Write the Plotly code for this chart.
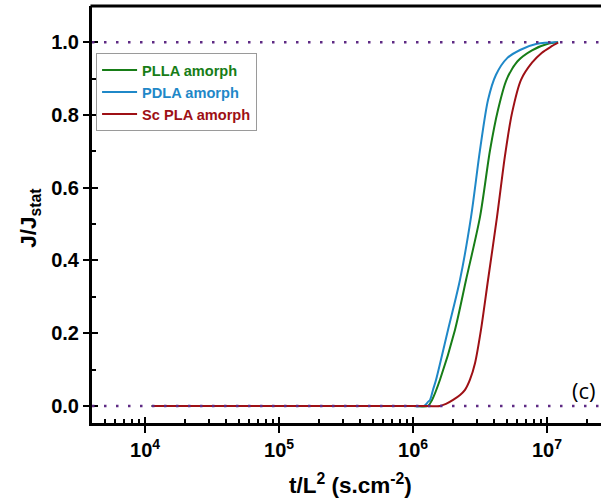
import plotly.graph_objects as go

# ---- data ----
t_plla = [1.12e4, 1.0e6, 1.294e6, 1.387e6, 1.589e6, 2.056e6, 2.489e6, 3.162e6, 3.758e6,
          4.305e6, 4.984e6, 6.026e6, 7.727e6, 1.016e7, 1.21e7]
j_plla = [0, 0, 0, 0.0165, 0.072, 0.209, 0.347, 0.520, 0.704,
          0.814, 0.897, 0.948, 0.978, 0.996, 1.0]

t_pdla = [1.12e4, 1.0e6, 1.208e6, 1.294e6, 1.340e6, 1.409e6, 1.486e6, 1.824e6, 2.242e6,
          2.711e6, 3.162e6, 3.631e6, 4.162e6, 5.023e6, 6.291e6, 8.414e6, 1.21e7]
j_pdla = [0, 0, 0, 0.011, 0.0165, 0.044, 0.072, 0.209, 0.347,
          0.520, 0.704, 0.842, 0.911, 0.956, 0.979, 0.996, 1.0]

t_sc = [1.12e4, 1.0e6, 1.589e6, 1.762e6, 1.991e6, 2.244e6, 2.443e6, 2.661e6, 2.904e6,
        3.214e6, 3.631e6, 4.236e6, 4.864e6, 5.483e6, 6.397e6, 7.727e6, 9.12e6, 1.07e7, 1.21e7]
j_sc = [0, 0, 0, 0.0055, 0.0165, 0.030, 0.044, 0.072, 0.118,
        0.209, 0.347, 0.520, 0.690, 0.806, 0.897, 0.944, 0.971, 0.988, 0.999]

series_names = ["PLLA amorph", "PDLA amorph", "Sc PLA amorph"]
series_colors = ["#177d17", "#1f88c8", "#9e1015"]

x_tickvals = [1e4, 1e5, 1e6, 1e7]
x_ticktext = ["<b>10<sup>4</sup></b>", "<b>10<sup>5</sup></b>",
              "<b>10<sup>6</sup></b>", "<b>10<sup>7</sup></b>"]
y_tickvals = [0.0, 0.2, 0.4, 0.6, 0.8, 1.0]
y_ticktext = ["<b>0.0</b>", "<b>0.2</b>", "<b>0.4</b>", "<b>0.6</b>", "<b>0.8</b>", "<b>1.0</b>"]
y_minor = [0.1, 0.3, 0.5, 0.7, 0.9]
x_minor = [m * 10 ** e for e in range(3, 8) for m in range(2, 10)]
ref_levels = [0.0, 1.0]

FONT = "Liberation Sans, Arial, sans-serif"
x_range = [3.604, 7.403]
y_range = [-0.047, 1.10]

fig = go.Figure()
for t, j, name, col in zip([t_plla, t_pdla, t_sc], [j_plla, j_pdla, j_sc],
                           series_names, series_colors):
    fig.add_trace(go.Scatter(
        x=t, y=j, mode="lines", line=dict(color=col, width=2, shape="spline", smoothing=0.8),
        name=f"<span style='color:{col}'><b>{name}</b></span>"))

# invisible trace to hold the overlay axes (inner half of crossing ticks)
fig.add_trace(go.Scatter(x=[1e5], y=[0.5], xaxis="x2", yaxis="y2", mode="markers",
                         marker=dict(opacity=0), showlegend=False, hoverinfo="skip"))

for lv in ref_levels:
    fig.add_shape(type="line", xref="paper", x0=0, x1=1, yref="y", y0=lv, y1=lv,
                  line=dict(color="#5e2a84", width=2.5, dash="2.5px,9.5px"), layer="above")
# top frame line
fig.add_shape(type="line", xref="paper", x0=-0.003, x1=1, yref="paper", y0=1, y1=1,
              line=dict(color="black", width=3), layer="above")

fig.update_layout(
    width=601, height=500,
    margin=dict(l=92, r=0, t=6, b=77),
    plot_bgcolor="white", paper_bgcolor="white",
    font=dict(family=FONT, color="black"),
    showlegend=True,
    legend=dict(x=0.008, y=0.887, xanchor="left", yanchor="top",
                bgcolor="white", bordercolor="#9a9a9a", borderwidth=1,
                itemwidth=35,
                font=dict(size=14.6, family=FONT)),
    xaxis=dict(type="log", range=x_range, showgrid=False, zeroline=False,
               showline=True, linecolor="black", linewidth=3,
               ticks="outside", ticklen=7, tickwidth=2, tickcolor="black",
               tickvals=x_tickvals, ticktext=x_ticktext,
               tickfont=dict(size=20, family=FONT),
               minor=dict(tickvals=x_minor, ticks="inside", ticklen=4, tickwidth=2,
                          tickcolor="black", showgrid=False)),
    yaxis=dict(range=y_range, showgrid=False, zeroline=False,
               showline=True, linecolor="black", linewidth=3, mirror=False,
               ticks="outside", ticklen=6, tickwidth=2, tickcolor="black",
               tickvals=y_tickvals, ticktext=y_ticktext,
               tickfont=dict(size=20, family=FONT),
               minor=dict(tickvals=y_minor, ticks="inside", ticklen=4, tickwidth=2,
                          tickcolor="black", showgrid=False)),
    xaxis2=dict(type="log", range=x_range, overlaying="x", anchor="y2", side="bottom",
                showgrid=False, zeroline=False, showline=False, showticklabels=False,
                ticks="inside", ticklen=6, tickwidth=2, tickcolor="black",
                tickvals=x_tickvals),
    yaxis2=dict(range=y_range, overlaying="y", anchor="x2", side="left",
                showgrid=False, zeroline=False, showline=False, showticklabels=False,
                ticks="inside", ticklen=6, tickwidth=2, tickcolor="black",
                tickvals=y_tickvals),
)

fig.add_annotation(text="<b>t/L<sup>2</sup> (s.cm<sup>-2</sup>)</b>", xref="paper", yref="paper",
                   x=0.507, y=-0.146, xanchor="center", yanchor="middle", showarrow=False,
                   font=dict(size=22.5, family=FONT))
fig.add_annotation(text="<b>J/J<sub>stat</sub></b>", xref="paper", yref="paper",
                   x=-0.122, y=0.492, xanchor="center", yanchor="middle", showarrow=False,
                   textangle=-90, font=dict(size=22.5, family=FONT))
fig.add_annotation(text="(c)", xref="paper", yref="y", x=0.995, y=0.045,
                   xanchor="right", yanchor="middle", showarrow=False,
                   font=dict(size=22, family="Open Sans, Liberation Sans, sans-serif"))

fig.write_html("out.html", config={"displayModeBar": False},
               post_script="document.body.style.margin='0';document.body.style.overflow='hidden';")
